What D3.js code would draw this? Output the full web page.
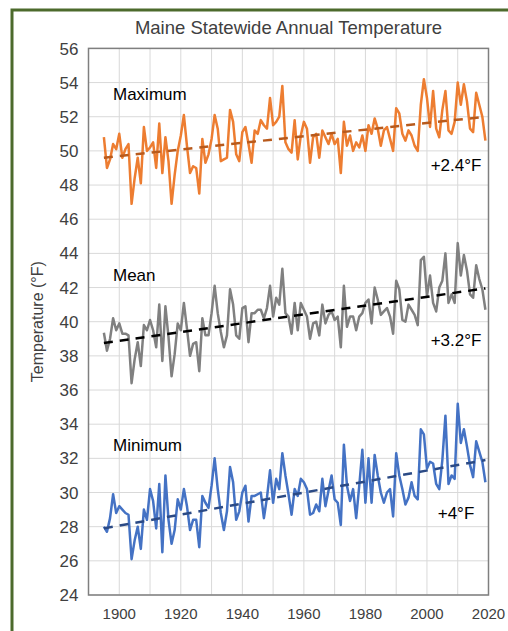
<!DOCTYPE html>
<html>
<head>
<meta charset="utf-8">
<script src="https://cdn.jsdelivr.net/npm/d3@7"></script>
<style>
  html, body { margin: 0; padding: 0; background: #fff; }
  svg { display: block; font-family: "Liberation Sans", Arial, sans-serif; }
</style>
</head>
<body>
<div id="chart"></div>
<script>
// annual values, 1895 .. 2019
const firstYear = 1895;

const maxTemp = [
  50.8, 49.0, 49.5, 50.4, 50.1, 51.0, 49.6, 50.1, 50.4, 46.9,
  48.4, 49.6, 48.1, 51.4, 50.0, 50.2, 50.5, 49.0, 51.6, 48.7,
  50.8, 49.4, 46.9, 48.6, 50.0, 50.9, 52.1, 50.3, 48.7, 49.1,
  49.0, 47.5, 50.7, 49.3, 49.8, 50.7, 52.1, 51.3, 49.4, 49.5,
  49.6, 52.4, 51.7, 49.8, 49.4, 51.1, 51.4, 50.4, 49.3, 51.2,
  51.0, 51.8, 51.5, 51.3, 53.1, 51.5, 51.7, 52.0, 53.8, 50.5,
  50.1, 49.9, 51.8, 49.5, 50.9, 51.7, 51.3, 49.3, 50.8, 51.0,
  49.6, 51.2, 50.8, 50.4, 51.0, 50.4, 50.7, 48.7, 51.7, 50.3,
  50.9, 50.0, 50.5, 50.2, 50.9, 50.0, 51.5, 51.0, 51.9, 51.3,
  50.3, 51.2, 51.4, 50.7, 50.0, 52.5, 52.2, 51.0, 50.6, 51.2,
  50.9, 50.3, 50.0, 52.7, 54.2, 53.1, 51.4, 53.5, 51.3, 50.8,
  52.4, 53.5, 51.2, 51.0, 51.7, 54.0, 52.7, 53.9, 52.9, 51.3,
  51.1, 53.4, 52.7, 52.0, 50.6
];

const meanTemp = [
  39.35, 38.3, 39.0, 40.2, 39.5, 39.9, 39.3, 39.3, 39.2, 36.4,
  37.8, 38.8, 37.4, 39.8, 39.5, 40.1, 39.5, 38.5, 41.0, 37.7,
  40.9, 39.1, 36.8, 38.1, 39.9, 39.5, 41.1, 39.6, 38.0, 38.7,
  38.8, 37.1, 40.2, 39.2, 39.2, 40.5, 42.1, 40.5, 39.4, 38.5,
  39.2, 41.9, 41.0, 39.2, 39.0, 40.8, 40.9, 38.8, 40.5, 40.5,
  40.7, 40.7, 40.2, 40.8, 42.1, 40.3, 41.4, 41.0, 43.1, 40.5,
  40.3, 39.3, 41.1, 39.5, 41.1, 40.7, 40.3, 39.0, 39.9, 40.0,
  39.2, 41.0, 39.9, 40.4, 40.6, 40.1, 40.3, 38.5, 42.1, 39.7,
  40.3, 40.3, 39.5, 40.3, 40.5, 41.1, 41.3, 39.9, 42.0, 41.3,
  40.4, 40.6, 40.8, 40.3, 39.3, 42.4, 41.9, 40.1, 40.0, 41.0,
  40.7, 40.4, 39.8, 43.6, 43.8, 41.5, 42.7, 41.1, 40.6, 42.0,
  42.4, 44.0, 41.1, 41.6, 41.1, 44.6, 42.7, 43.9, 43.0, 41.6,
  41.4, 43.3, 42.5, 41.9, 40.7
];

const minTemp = [
  28.0, 27.7, 28.5, 29.9, 28.8, 29.2, 29.0, 28.8, 28.7, 26.1,
  27.2, 28.0, 26.7, 29.0, 28.4, 30.2, 29.5, 27.9, 30.5, 26.5,
  31.0, 28.4, 27.0, 27.8, 29.6, 29.0, 30.2, 29.2, 27.8, 28.4,
  28.4, 26.8, 29.8, 29.4, 29.1, 30.4, 32.0, 30.2, 28.8, 27.8,
  28.9, 31.5, 30.6, 28.4, 28.9, 30.0, 30.4, 28.3, 29.8, 29.8,
  29.9, 30.0, 28.5, 29.7, 31.3, 29.4, 30.8, 30.2, 32.3, 31.0,
  29.9, 28.7, 30.2, 29.8, 30.8, 30.6, 30.2, 28.7, 28.8, 29.3,
  28.9, 30.8, 29.2, 30.1, 31.0, 29.6, 29.4, 28.1, 32.8, 30.4,
  29.5, 30.2, 28.5, 30.4, 32.5, 29.4, 32.0, 29.4, 32.2, 31.0,
  30.0, 29.4, 30.0, 30.2, 28.6, 32.3, 31.0, 30.2, 29.3, 29.7,
  30.6, 29.8, 29.6, 33.7, 33.4, 31.4, 31.8, 31.7, 30.5, 30.2,
  31.9, 34.5, 30.5, 31.0, 30.8, 35.2, 32.9, 33.7, 32.7, 31.6,
  30.9, 33.0, 32.4, 31.8, 30.6
];

// linear trend end points
const trendYears = [1895, 2019];
const maxTrend = [49.6, 52.0];
const meanTrend = [38.75, 41.95];
const minTrend = [27.9, 31.9];

const seriesNames = ["Maximum", "Mean", "Minimum"];
const changeLabels = ["+2.4°F", "+3.2°F", "+4°F"];

const yTicks = [24, 26, 28, 30, 32, 34, 36, 38, 40, 42, 44, 46, 48, 50, 52, 54, 56];
const xTicks = [1900, 1920, 1940, 1960, 1980, 2000, 2020];
const xGrid = [1890, 1900, 1910, 1920, 1930, 1940, 1950, 1960, 1970, 1980, 1990, 2000, 2010, 2020];

const width = 508, height = 631;
const margin = {top: 48.4, right: 19.5, bottom: 36, left: 88.5};

const svg = d3.select("#chart").append("svg")
    .attr("width", width)
    .attr("height", height);

// green outer frame (runs past the right / bottom edge)
svg.append("rect")
    .attr("x", 12).attr("y", 10)
    .attr("width", width + 20).attr("height", height + 20)
    .attr("fill", "#fff")
    .attr("stroke", "#4c6a2c")
    .attr("stroke-width", 3);

const x = d3.scaleLinear()
    .domain([1890, 2020])
    .range([margin.left, width - margin.right]);

const y = d3.scaleLinear()
    .domain([24, 56])
    .range([height - margin.bottom, margin.top]);

// grid
svg.append("g")
    .attr("stroke", "#d9d9d9")
    .attr("stroke-width", 1)
  .selectAll("line.h")
  .data(yTicks)
  .join("line")
    .attr("x1", x(1890)).attr("x2", x(2020))
    .attr("y1", d => y(d)).attr("y2", d => y(d));

svg.append("g")
    .attr("stroke", "#d9d9d9")
    .attr("stroke-width", 1)
  .selectAll("line.v")
  .data(xGrid)
  .join("line")
    .attr("x1", d => x(d)).attr("x2", d => x(d))
    .attr("y1", y(24)).attr("y2", y(56));

// plot frame
svg.append("rect")
    .attr("x", x(1890)).attr("y", y(56))
    .attr("width", x(2020) - x(1890))
    .attr("height", y(24) - y(56))
    .attr("fill", "none")
    .attr("stroke", "#7f7f7f")
    .attr("stroke-width", 1.5);

// tick labels
svg.append("g")
  .selectAll("text")
  .data(yTicks)
  .join("text")
    .attr("x", x(1890) - 10)
    .attr("y", d => y(d))
    .attr("dy", "0.36em")
    .attr("text-anchor", "end")
    .attr("fill", "#404040")
    .style("font-size", "17px")
    .text(d => d);

svg.append("g")
  .selectAll("text")
  .data(xTicks)
  .join("text")
    .attr("x", d => x(d))
    .attr("y", y(24) + 24)
    .attr("text-anchor", "middle")
    .attr("fill", "#404040")
    .style("font-size", "15px")
    .text(d => d);

svg.append("text")
    .attr("transform", `translate(43,${(y(24) + y(56)) / 2}) rotate(-90)`)
    .attr("text-anchor", "middle")
    .attr("fill", "#404040")
    .style("font-size", "16px")
    .text("Temperature (°F)");

svg.append("text")
    .attr("x", (x(1890) + x(2020)) / 2)
    .attr("y", 34)
    .attr("text-anchor", "middle")
    .attr("fill", "#404040")
    .style("font-size", "18.5px")
    .text("Maine Statewide Annual Temperature");

// series
const line = d3.line()
    .x((d, i) => x(firstYear + i))
    .y(d => y(d));

const trendLine = d3.line()
    .x((d, i) => x(trendYears[i]))
    .y(d => y(d));

const series = [
  {values: maxTemp, trend: maxTrend, color: "#ed7d31", trendColor: "#b85a1c"},
  {values: meanTemp, trend: meanTrend, color: "#808080", trendColor: "#000"},
  {values: minTemp, trend: minTrend, color: "#4472c4", trendColor: "#2b4a85"}
];

series.forEach(s => {
  svg.append("path")
      .datum(s.values)
      .attr("fill", "none")
      .attr("stroke", s.color)
      .attr("stroke-width", 2.5)
      .attr("stroke-linejoin", "round")
      .attr("d", line);

  svg.append("path")
      .datum(s.trend)
      .attr("fill", "none")
      .attr("stroke", s.trendColor)
      .attr("stroke-width", 2.5)
      .attr("stroke-dasharray", "9,7")
      .attr("d", trendLine);
});

// labels inside the plot (baseline positions in data units)
const nameY = [53.0, 42.4, 32.45];
const changeY = [48.8, 38.6, 28.45];

svg.append("g")
  .selectAll("text")
  .data(seriesNames)
  .join("text")
    .attr("x", 113)
    .attr("y", (d, i) => y(nameY[i]))
    .attr("fill", "#000")
    .style("font-size", "17px")
    .text(d => d);

svg.append("g")
  .selectAll("text")
  .data(changeLabels)
  .join("text")
    .attr("x", 456)
    .attr("y", (d, i) => y(changeY[i]))
    .attr("text-anchor", "middle")
    .attr("fill", "#000")
    .style("font-size", "17px")
    .text(d => d);
</script>
</body>
</html>
